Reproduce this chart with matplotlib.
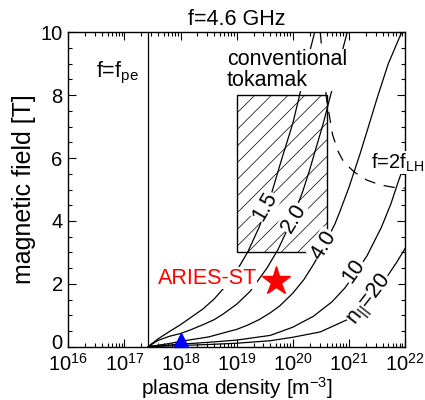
import math
import matplotlib
matplotlib.use('Agg')
import matplotlib.pyplot as plt
import matplotlib.transforms as mtransforms
from matplotlib.patches import Rectangle
from matplotlib.ticker import FixedLocator, LogLocator, NullFormatter, FuncFormatter

plt.rcParams['font.family'] = ['Liberation Sans', 'DejaVu Sans']
plt.rcParams['mathtext.fontset'] = 'custom'
plt.rcParams['mathtext.rm'] = 'Liberation Sans'
plt.rcParams['mathtext.it'] = 'Liberation Sans:italic'
plt.rcParams['mathtext.bf'] = 'Liberation Sans:bold'
plt.rcParams['hatch.linewidth'] = 0.5
plt.rcParams['hatch.color'] = '#999999'

# ---------------- data (log10 density [m^-3], magnetic field [T]) ----------------
fpe_logn = 17.42

logn_15 = [17.42, 17.60, 17.80, 18.00, 18.20, 18.40, 18.60, 18.80, 19.00, 19.20,
           19.40, 19.60, 19.80, 20.00, 20.10, 20.20, 20.30, 20.39]
b_15 = [0.00, 0.25, 0.48, 0.70, 0.95, 1.20, 1.52, 1.92, 2.41, 3.02,
        3.80, 4.75, 5.95, 7.10, 7.84, 8.60, 9.37, 10.0]

logn_20 = [17.42, 17.60, 17.80, 18.00, 18.17, 18.40, 18.60, 18.76, 19.00, 19.24,
           19.54, 19.74, 20.00, 20.18, 20.30, 20.54, 20.70, 20.85, 20.97]
b_20 = [0.00, 0.20, 0.33, 0.42, 0.53, 0.70, 0.86, 1.04, 1.35, 1.76,
        2.50, 3.10, 4.10, 4.95, 5.62, 7.08, 8.18, 9.18, 10.0]

logn_40 = [17.42, 17.80, 18.00, 18.50, 18.85, 19.00, 19.20, 19.40, 19.60, 19.77,
           20.00, 20.20, 20.37, 20.55, 20.75, 20.84, 21.00, 21.20, 21.34, 21.50,
           21.70, 21.94]
b_40 = [0.00, 0.10, 0.17, 0.31, 0.48, 0.55, 0.69, 0.86, 1.08, 1.30,
        1.70, 2.14, 2.62, 3.18, 3.90, 4.30, 5.06, 6.14, 6.95, 7.89,
        8.99, 10.0]

logn_100 = [17.42, 18.00, 18.50, 19.00, 19.60, 20.00, 20.37, 20.70, 20.93, 21.10,
            21.32, 21.58, 21.75, 21.88, 22.00]
b_100 = [0.00, 0.08, 0.14, 0.21, 0.36, 0.62, 0.97, 1.43, 1.87, 2.30,
         2.88, 3.80, 4.55, 5.25, 5.86]

logn_200 = [17.42, 18.50, 19.00, 19.60, 20.00, 20.49, 21.02, 21.30, 21.50, 21.70,
            21.85, 22.00]
b_200 = [0.00, 0.07, 0.11, 0.19, 0.30, 0.47, 0.90, 1.40, 1.79, 2.28,
         2.68, 3.12]

logn_2flh = [20.49, 20.60, 20.71, 20.81, 20.91, 21.10, 21.32, 21.55, 21.79, 22.00]
b_2flh = [10.0, 7.90, 6.74, 6.20, 5.87, 5.55, 5.30, 5.15, 5.07, 5.04]

tokamak_logn = [19.00, 20.605]
tokamak_b = [3.0, 8.0]

aries_logn = 19.70
aries_b = 2.09
tri_logn = 18.0
tri_b = 0.21

curve_labels = ['1.5', '2.0', '4.0', '10', r'n$_{||}$=20']
label_logn = [19.507, 20.013, 20.547, 21.09, 21.375]
label_b = [4.46, 4.09, 3.23, 2.41, 1.49]
label_rot = [60, 59, 58, 55, 52]

xtick_exp = [16, 17, 18, 19, 20, 21, 22]
yticks = [0, 2, 4, 6, 8, 10]

# ---------------- figure ----------------
fig = plt.figure(figsize=(4.25, 4.0), dpi=100)
ax = fig.add_axes([68.3 / 425, 1 - 346.7 / 400, (405 - 68.3) / 425, (346.7 - 32.3) / 400])
ax.set_xscale('log')
ax.set_xlim(1e16, 1e22)
ax.set_ylim(0, 10)

rect = Rectangle((10 ** tokamak_logn[0], tokamak_b[0]),
                 10 ** tokamak_logn[1] - 10 ** tokamak_logn[0],
                 tokamak_b[1] - tokamak_b[0],
                 facecolor='none', edgecolor='black', linewidth=1.0, hatch='//', zorder=1)
ax.add_patch(rect)

lw = 0.9
for ln, bb in [(logn_15, b_15), (logn_20, b_20), (logn_40, b_40),
               (logn_100, b_100), (logn_200, b_200)]:
    ax.plot([10 ** v for v in ln], bb, color='black', lw=lw, zorder=2)

ax.plot([10 ** v for v in logn_2flh], b_2flh, color='black', lw=lw,
        dashes=(9, 7), zorder=2)

ax.plot([10 ** fpe_logn, 10 ** fpe_logn], [0, 10], color='black', lw=lw, zorder=2)

fs = 15.5
bbox = dict(facecolor='white', edgecolor='none', pad=0.5)
for t, lx, by, r in zip(curve_labels, label_logn, label_b, label_rot):
    ax.text(10 ** lx, by, t, rotation=r, rotation_mode='anchor', ha='center', va='center',
            fontsize=fs, bbox=bbox, zorder=3)

ax.text(10 ** 16.87, 8.70, r'f=f$_{\mathrm{pe}}$', ha='center', va='center', fontsize=fs)
ax.text(10 ** 18.83, 8.80, 'conventional\ntokamak', ha='left', va='center', fontsize=fs,
        linespacing=0.95, bbox=dict(facecolor='white', edgecolor='none', pad=0.0), zorder=3)
ax.text(10 ** 21.40, 5.85, r'f=2f$_{\mathrm{LH}}$', ha='left', va='center', fontsize=14.5,
        bbox=dict(facecolor='white', edgecolor='none', pad=0.3), zorder=5, clip_on=False)
ax.text(10 ** 19.36, 2.18, 'ARIES-ST', color='red', ha='right', va='center', fontsize=fs,
        bbox=dict(facecolor='white', edgecolor='none', pad=0.5), zorder=3)

ax.plot([10 ** aries_logn], [aries_b], marker='*', color='red', ms=21, mec='red',
        linestyle='none', zorder=4)
ax.plot([10 ** tri_logn], [tri_b], marker='^', color='blue', ms=10, mec='blue',
        linestyle='none', zorder=4, clip_on=False)

ax.set_title('f=4.6 GHz', fontsize=fs, pad=5)
fig.text(0.5 * (68.3 + 405) / 425, 0.012, r'plasma density [m$^{-3}$]', fontsize=15,
         ha='center', va='baseline')
ax.set_ylabel('magnetic field [T]', fontsize=18, labelpad=3)

ax.xaxis.set_major_locator(FixedLocator([10.0 ** e for e in xtick_exp]))
ax.xaxis.set_minor_locator(LogLocator(base=10, subs=[2, 3, 4, 5, 6, 7, 8, 9], numticks=20))
ax.xaxis.set_minor_formatter(NullFormatter())
ax.xaxis.set_major_formatter(FuncFormatter(lambda v, p: r'$10^{%d}$' % round(math.log10(v))))
ax.set_yticks(yticks)
ax.yaxis.set_minor_locator(FixedLocator([i * 0.5 for i in range(21)]))

ax.tick_params(which='both', direction='in', top=True, right=True, labelsize=14.5, width=0.8)
ax.tick_params(which='major', length=6)
ax.tick_params(which='minor', length=3)
ax.tick_params(axis='x', pad=4.5)
ax.tick_params(axis='y', pad=4)
for s in ax.spines.values():
    s.set_linewidth(1.0)

# lift the "0" label slightly, as in the reference
ylab0 = ax.get_yticklabels()[0]
ylab0.set_transform(ylab0.get_transform() + mtransforms.ScaledTranslation(0, 5 / 100, fig.dpi_scale_trans))

fig.savefig('out.png', dpi=100)
